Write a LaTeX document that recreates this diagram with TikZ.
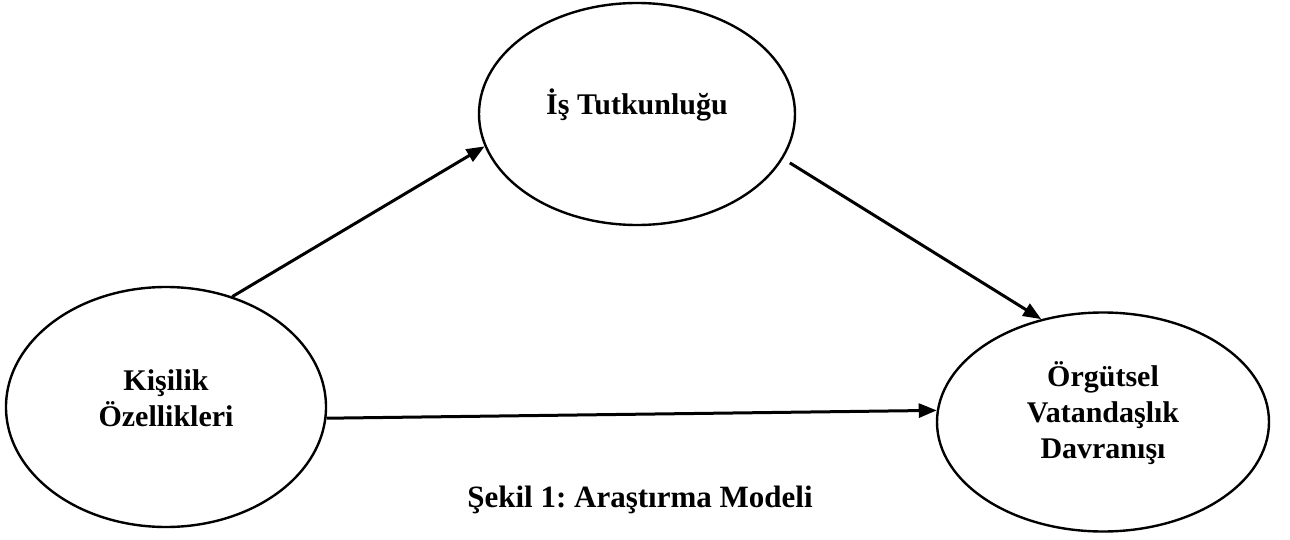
\documentclass[tikz,border=0pt]{standalone}
\usepackage{fontspec}
\setmainfont{Liberation Serif}
\usetikzlibrary{shapes.geometric,arrows.meta}
\frenchspacing
\begin{document}
\begin{tikzpicture}[x=0.5pt,y=-0.5pt,
  ell/.style={ellipse, draw=black, line width=1.2pt, inner sep=0pt},
  lab/.style={font=\fontsize{15}{18}\selectfont\bfseries, align=center, yshift=4.5pt},
  link/.style={line width=1.5pt, -{Triangle[length=9pt,width=7pt]}}]
  \useasboundingbox (0,0) rectangle (1290,540);

  % constructs of the model
  \node[ell, minimum width=160pt, minimum height=120pt,
        label={[lab]center:Kişilik\\Özellikleri}] (k) at (166,407) {};
  \node[ell, minimum width=158pt, minimum height=111pt,
        label={[lab]center:İş Tutkunluğu}] (i) at (637,114) {};
  \node[ell, minimum width=166pt, minimum height=109.5pt,
        label={[lab]center:Örgütsel\\Vatandaşlık\\Davranışı}] (o) at (1103,422) {};

  % hypothesised paths
  \draw[link] (k.59.8) -- (i.192.8);
  \draw[link, shorten <=4pt] (i.-17) -- (o.121.8);
  \draw[link] (k.-4.4) -- (o.176.5);

  % caption
  \node[font=\fontsize{15.5}{18}\selectfont\bfseries] (cap) at (640,500) {Şekil 1: Araştırma Modeli};
\end{tikzpicture}
\end{document}
